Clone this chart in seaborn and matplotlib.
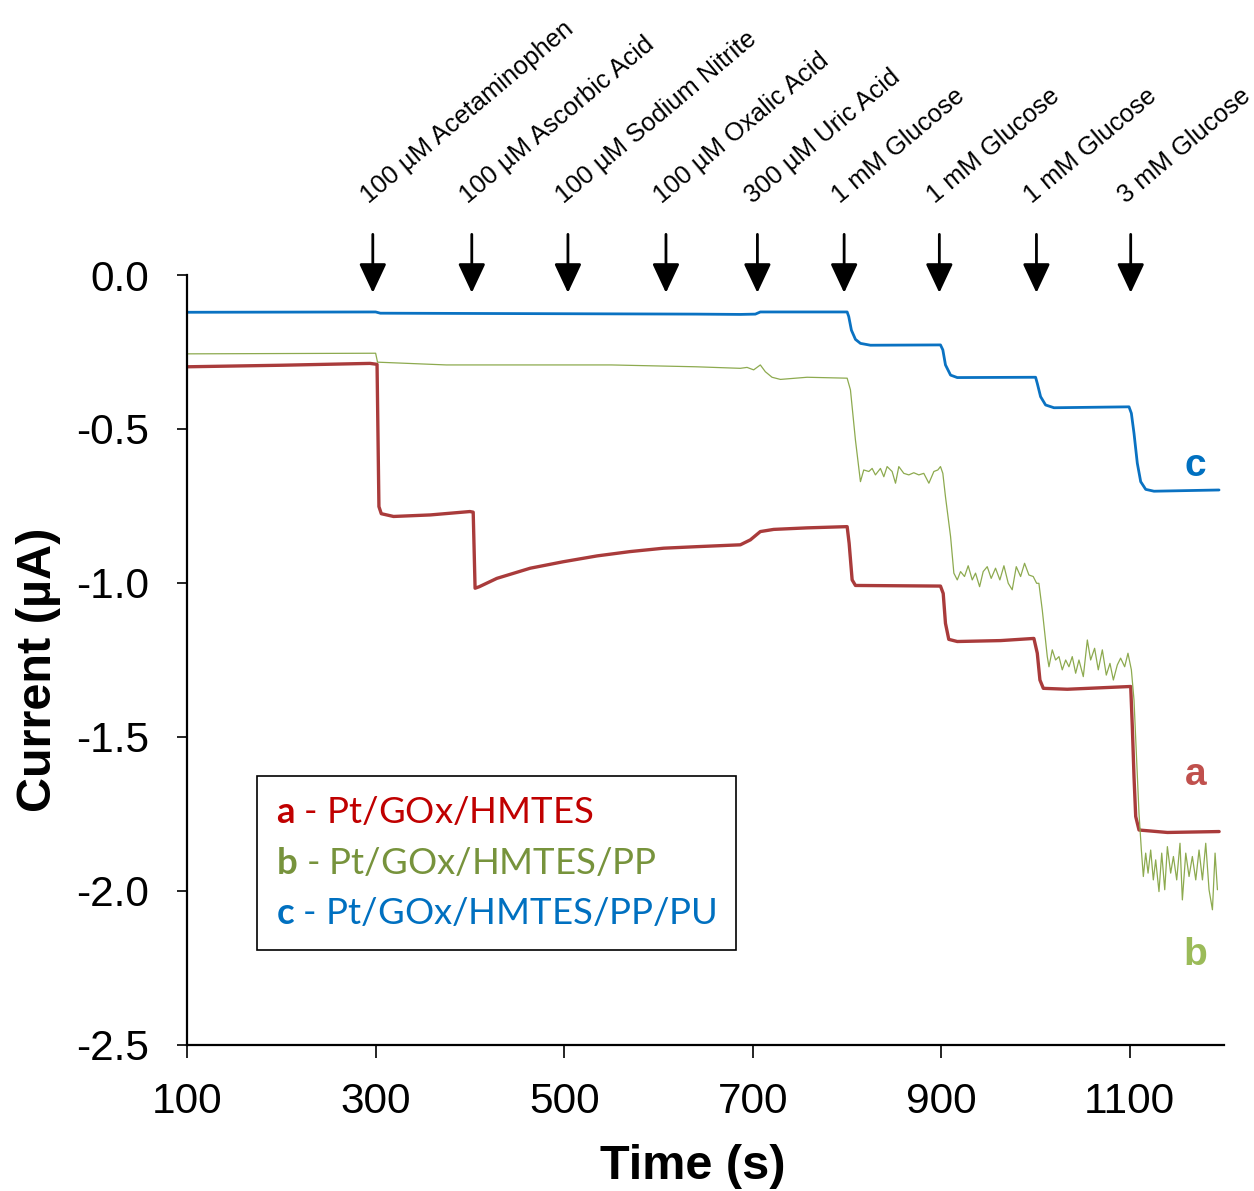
import numpy as np
import pandas as pd
import matplotlib
matplotlib.use("Agg")
import matplotlib.pyplot as plt
from matplotlib.lines import Line2D
import seaborn as sns

# ---- amperometric traces (time in s, current in uA) ----
time_a = [100, 200, 294, 301.5, 303.5, 306, 319, 358, 400, 403.5, 405.5, 410,
          428.6, 464, 499, 535, 570, 605.6, 641, 686.9, 697.5, 708.1, 722.3,
          757.7, 800.2, 802.3, 805.5, 809, 899.2, 902.1, 904.5, 908, 917, 963,
          998.3, 1001.9, 1004.7, 1008.3, 1033.7, 1101, 1102.7, 1104.5, 1106.3,
          1109.8, 1139.9, 1194.8]
current_a = [-0.298, -0.293, -0.287, -0.290, -0.752, -0.775, -0.784, -0.779,
             -0.768, -0.770, -1.017, -1.012, -0.985, -0.952, -0.931, -0.912,
             -0.898, -0.887, -0.882, -0.876, -0.860, -0.833, -0.826, -0.821,
             -0.817, -0.871, -0.990, -1.008, -1.010, -1.034, -1.131, -1.183,
             -1.190, -1.187, -1.180, -1.228, -1.315, -1.342, -1.345, -1.336,
             -1.466, -1.629, -1.758, -1.802, -1.810, -1.807]

time_b = [100, 200, 300, 302, 375, 550, 640, 686.9, 694, 701, 708.1, 713.4,
          720.5, 729.4, 757.7, 800.2, 803.7, 809, 814.3,
          817.8, 823.2, 826.7, 830.2, 835.5, 839.1, 842.6, 847.9, 851.5, 855.0,
          860.3, 865.6, 870.9, 876.2, 881.5, 886.9, 892.2, 896.4, 899.2, 901.7,
          904.5, 909.9, 913.4,
          917, 920.5, 924.7, 928.6, 932.9, 936.4, 940.7, 944.5, 948.8, 953.0,
          957.6, 962.2, 966.5, 971.1, 975.3, 979.6, 984.2, 988.4, 993.0, 997.6,
          1001.2, 1003.6, 1007.2, 1012.5,
          1014.3, 1017.8, 1021.3, 1024.9, 1028.4, 1032.0, 1035.5, 1039.0,
          1042.6, 1046.1, 1050.7, 1055.0, 1058.5, 1062.7, 1066.6, 1070.9,
          1075.1, 1079.0, 1082.6, 1086.8, 1090.3, 1094.6, 1098.1, 1101.7,
          1104.5, 1107.3, 1109.8, 1112.3,
          1114.4, 1116.9, 1119.4, 1122.2, 1125.0, 1127.5, 1131.0, 1133.9,
          1137.1, 1139.9, 1143.4, 1146.3, 1149.8, 1153.3, 1155.8, 1159.4,
          1162.9, 1166.4, 1170.0, 1173.5, 1177.1, 1180.6, 1184.1, 1187.7,
          1190.5, 1193.0]
current_b = [-0.256, -0.255, -0.254, -0.283, -0.292, -0.292, -0.298, -0.303,
             -0.300, -0.308, -0.292, -0.314, -0.332, -0.339, -0.332, -0.335,
             -0.373, -0.536, -0.671,
             -0.633, -0.638, -0.628, -0.649, -0.628, -0.655, -0.622, -0.638,
             -0.676, -0.622, -0.644, -0.649, -0.642, -0.649, -0.644, -0.676,
             -0.638, -0.633, -0.622, -0.644,
             -0.720, -0.849, -0.968,
             -0.990, -0.963, -0.979, -0.944, -0.990, -0.968, -1.012, -0.963,
             -0.947, -0.985, -0.952, -0.990, -0.944, -1.001, -1.022, -0.947,
             -0.979, -0.936, -0.974, -0.979, -1.001,
             -1.001, -1.088, -1.239,
             -1.272, -1.217, -1.250, -1.239, -1.282, -1.250, -1.272, -1.239,
             -1.293, -1.250, -1.304, -1.185, -1.250, -1.212, -1.282, -1.217,
             -1.299, -1.261, -1.315, -1.266, -1.244, -1.272, -1.228, -1.282,
             -1.380, -1.575, -1.748, -1.867,
             -1.953, -1.877, -1.942, -1.867, -1.964, -1.899, -2.002, -1.877,
             -1.996, -1.856, -1.942, -1.888, -1.964, -1.845, -2.029, -1.877,
             -1.953, -1.888, -1.964, -1.867, -1.964, -1.845, -1.996, -2.061,
             -1.877, -1.996]

time_c = [100, 300, 305, 640, 686.9, 702.8, 708.1, 800.2, 801.9, 804.7, 809,
          814.3, 824.9, 899.2, 901.7, 904.5, 909.9, 917, 1000.1, 1001.9,
          1005.4, 1010.7, 1019.6, 1099.2, 1101.7, 1104.5, 1108.0, 1111.6,
          1116.9, 1125.7, 1194.7]
current_c = [-0.121, -0.120, -0.124, -0.127, -0.128, -0.127, -0.120, -0.120,
             -0.135, -0.179, -0.209, -0.222, -0.228, -0.227, -0.243, -0.292,
             -0.325, -0.333, -0.332, -0.352, -0.395, -0.422, -0.431, -0.428,
             -0.449, -0.514, -0.611, -0.671, -0.696, -0.702, -0.698]

# ---- injections ----
injection_times = [297, 402, 504, 608, 705, 797, 898, 1001, 1101]
injection_labels = ["100 µM Acetaminophen", "100 µM Ascorbic Acid",
                    "100 µM Sodium Nitrite", "100 µM Oxalic Acid",
                    "300 µM Uric Acid", "1 mM Glucose", "1 mM Glucose",
                    "1 mM Glucose", "3 mM Glucose"]

# ---- series labels ----
series_letters = ["a", "b", "c"]
series_names = ["Pt/GOx/HMTES", "Pt/GOx/HMTES/PP", "Pt/GOx/HMTES/PP/PU"]
trace_colors = ["#A93B3B", "#8DAA4F", "#0A72C2"]
legend_colors = ["#C00000", "#77933C", "#0070C0"]
letter_colors = ["#C0504D", "#9BBB59", "#0070C0"]
letter_pos_time = [1170, 1170, 1170]
letter_pos_current = [-1.623, -2.208, -0.620]

x_ticks = [100, 300, 500, 700, 900, 1100]
y_ticks = [0.0, -0.5, -1.0, -1.5, -2.0, -2.5]

sns.set_theme(style="white")
plt.rcParams["font.family"] = ["Liberation Sans", "DejaVu Sans"]
plt.rcParams["mathtext.fontset"] = "custom"
plt.rcParams["mathtext.rm"] = "Lato"
plt.rcParams["mathtext.bf"] = "Lato:bold"

fig = plt.figure(figsize=(12.54, 11.91), dpi=100)
ax = fig.add_axes([0.1492, 0.1226, 0.8269, 0.6465])

frames = []
for letter, t, c in zip(series_letters, [time_a, time_b, time_c],
                        [current_a, current_b, current_c]):
    frames.append(pd.DataFrame({"time": t, "current": c, "series": letter}))
df = pd.concat(frames, ignore_index=True)

widths = {"a": 2.4, "b": 0.9, "c": 2.0}
for letter, col in zip(series_letters, trace_colors):
    sns.lineplot(data=df[df["series"] == letter], x="time", y="current",
                 color=col, lw=widths[letter], estimator=None, sort=False,
                 ax=ax, legend=False)

ax.set_xlim(100, 1200)
ax.set_ylim(-2.5, 0.0)
ax.set_xticks(x_ticks)
ax.set_yticks(y_ticks)
ax.set_yticklabels([f"{v:.1f}" for v in y_ticks])

for side in ["top", "right"]:
    ax.spines[side].set_visible(False)
for side in ["left", "bottom"]:
    ax.spines[side].set_color("black")
    ax.spines[side].set_linewidth(1.6)

ax.tick_params(axis="x", direction="out", length=9.5, width=1.2,
               colors="black", labelsize=30.5, pad=17, bottom=True)
ax.tick_params(axis="y", direction="out", length=7.5, width=1.2,
               colors="black", labelsize=30.5, pad=20, left=True)

ax.set_xlabel("Time (s)", fontsize=35, fontweight="bold", color="black")
ax.set_ylabel("Current (µA)", fontsize=35, fontweight="bold", color="black")
ax.xaxis.set_label_coords(0.4874, -0.128)
ax.yaxis.set_label_coords(-0.122, 0.487)

# injection arrows and labels
for t, lab in zip(injection_times, injection_labels):
    ax.annotate("", xy=(t, -0.058), xytext=(t, 0.132),
                arrowprops=dict(arrowstyle="-|>,head_length=0.6,head_width=0.28",
                                color="black", lw=2.0, mutation_scale=30,
                                shrinkA=0, shrinkB=0),
                annotation_clip=False)
    ax.text(t - 4.5, 0.231, lab, rotation=40, rotation_mode="anchor",
            ha="left", va="baseline", fontsize=18.4, color="black",
            clip_on=False)

# curve letters
for letter, col, tx, cy in zip(series_letters, letter_colors,
                               letter_pos_time, letter_pos_current):
    ax.text(tx, cy, letter, color=col, fontsize=28, fontweight="bold",
            ha="center", va="center")

# legend
handles = [Line2D([], [], alpha=0) for _ in series_letters]
labels = [rf"$\mathbf{{{l}}}$ - {n}" for l, n in zip(series_letters, series_names)]
leg = ax.legend(handles, labels, loc="upper left",
                bbox_to_anchor=(0.0674, 0.349), borderaxespad=0,
                frameon=True, fancybox=False, framealpha=1,
                edgecolor="black", handlelength=0, handletextpad=0,
                borderpad=0.53, labelspacing=0.49,
                prop={"family": "Lato", "size": 26.3})
leg.get_frame().set_linewidth(1.2)
for txt, col in zip(leg.get_texts(), legend_colors):
    txt.set_color(col)

fig.savefig("out.png", dpi=100, facecolor="white")
